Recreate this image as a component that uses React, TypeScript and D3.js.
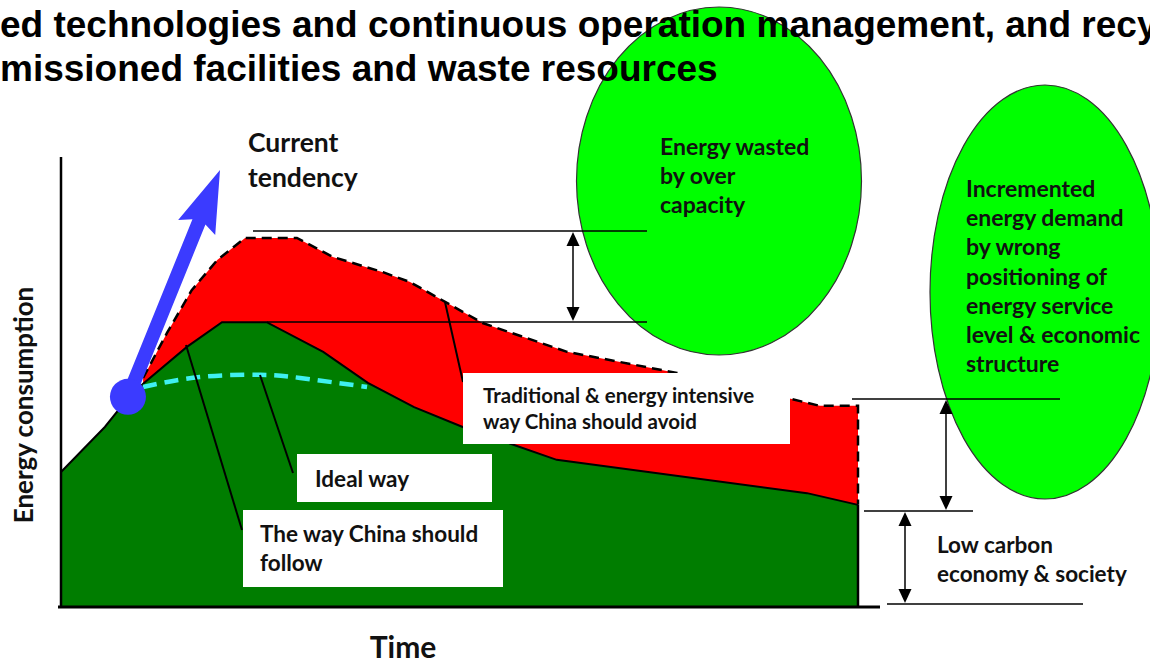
import { useEffect, useRef } from 'react';
import * as d3 from 'd3';

// time axis 0..100, energy axis 0..100 (conceptual units)
const followTime = [0, 5.5, 8.4, 10.3, 15.8, 20.2, 25.8, 32.9, 38.5, 44.3, 50.4, 62.2, 93.6, 100];
const followEnergy = [30, 40, 46.4, 49.6, 57.8, 63.3, 63.3, 56.7, 49.8, 44.4, 40, 32.7, 25.3, 22.7];

const avoidTime = [10.3, 13.3, 16.4, 19.6, 23.1, 29.6, 34.1, 40.4, 43.8, 52.9, 63.5, 77.3, 91.7, 95.2, 100];
const avoidEnergy = [50.9, 60.9, 70.4, 77.1, 82, 82, 77.8, 74.4, 72.2, 63.1, 56.7, 52, 46.2, 44.7, 44.7];

const idealTime = [10.3, 17.4, 25, 30, 38.4];
const idealEnergy = [48.9, 51.1, 51.6, 50.9, 48.9];

const tendencyTime = [8.4, 19.95];
const tendencyEnergy = [46.7, 97.1];

const titleLines = [
  'ed technologies and continuous operation management, and recy',
  'missioned facilities and waste resources',
];
const wastedLines = ['Energy wasted', 'by over', 'capacity'];
const demandLines = ['Incremented', 'energy demand', 'by wrong', 'positioning of', 'energy service', 'level & economic', 'structure'];
const avoidLines = ['Traditional & energy intensive', 'way China should avoid'];
const followLines = ['The way China should', 'follow'];
const idealLines = ['Ideal way'];
const lowCarbonLines = ['Low carbon', 'economy & society'];
const tendencyLines = ['Current', 'tendency'];

type Pt = [number, number];

export default function App() {
  const svgRef = useRef<SVGSVGElement>(null);

  useEffect(() => {
    if (!svgRef.current) return;
    const width = 1150;
    const height = 664;
    const svg = d3.select(svgRef.current);
    svg.selectAll('*').remove();
    svg.attr('width', width).attr('height', height);

    const x = d3.scaleLinear().domain([0, 100]).range([61, 858]);
    const y = d3.scaleLinear().domain([0, 100]).range([607, 157]);
    const line = d3.line<Pt>().x(d => x(d[0])).y(d => y(d[1]));

    const follow: Pt[] = followTime.map((t, i) => [t, followEnergy[i]]);
    const avoid: Pt[] = avoidTime.map((t, i) => [t, avoidEnergy[i]]);
    const ideal: Pt[] = idealTime.map((t, i) => [t, idealEnergy[i]]);

    const labelFont = 'Lato, "Open Sans", sans-serif';

    // green ellipses
    svg.append('ellipse')
      .attr('cx', 719).attr('cy', 181).attr('rx', 142.5).attr('ry', 174)
      .attr('fill', '#00ff00').attr('stroke', '#333').attr('stroke-width', 1.2);
    svg.append('ellipse')
      .attr('cx', 1045).attr('cy', 292).attr('rx', 115).attr('ry', 207)
      .attr('fill', '#00ff00').attr('stroke', '#333').attr('stroke-width', 1.2);

    // green area: the way China should follow
    svg.append('path')
      .attr('d', line([...follow, [100, 0], [0, 0]]) + 'Z')
      .attr('fill', '#007d00');

    // red area: traditional way to avoid
    const lower = follow.filter(d => d[0] >= avoidTime[0]).reverse();
    svg.append('path')
      .attr('d', line([...avoid, ...lower]) + 'Z')
      .attr('fill', '#ff0000');

    svg.append('path')
      .attr('d', line(follow))
      .attr('fill', 'none').attr('stroke', '#000').attr('stroke-width', 2);
    svg.append('line')
      .attr('x1', x(100)).attr('x2', x(100))
      .attr('y1', y(followEnergy[followEnergy.length - 1])).attr('y2', y(0))
      .attr('stroke', '#000').attr('stroke-width', 2.5);

    svg.append('path')
      .attr('d', line([...avoid, [100, followEnergy[followEnergy.length - 1]]]))
      .attr('fill', 'none').attr('stroke', '#000').attr('stroke-width', 2.5)
      .attr('stroke-dasharray', '10,6');

    // axes
    svg.append('line')
      .attr('x1', x(0)).attr('x2', x(0)).attr('y1', 157).attr('y2', y(0) + 1)
      .attr('stroke', '#000').attr('stroke-width', 2.5);
    svg.append('line')
      .attr('x1', 58).attr('x2', 880).attr('y1', y(0)).attr('y2', y(0))
      .attr('stroke', '#000').attr('stroke-width', 3);

    // cyan ideal path
    svg.append('path')
      .attr('d', d3.line<Pt>().x(d => x(d[0])).y(d => y(d[1])).curve(d3.curveNatural)(ideal))
      .attr('fill', 'none').attr('stroke', '#3ff0f0').attr('stroke-width', 4.5)
      .attr('stroke-dasharray', '14,8');

    // reference lines and double arrows
    const hLine = (x1: number, x2: number, yy: number) =>
      svg.append('line').attr('x1', x1).attr('x2', x2).attr('y1', yy).attr('y2', yy)
        .attr('stroke', '#000').attr('stroke-width', 1.3);
    const vArrow = (xx: number, y1: number, y2: number) => {
      svg.append('line').attr('x1', xx).attr('x2', xx).attr('y1', y1 + 8).attr('y2', y2 - 8)
        .attr('stroke', '#000').attr('stroke-width', 1.5);
      svg.append('path').attr('d', `M${xx},${y1}L${xx - 6.5},${y1 + 14}L${xx + 6.5},${y1 + 14}Z`).attr('fill', '#000');
      svg.append('path').attr('d', `M${xx},${y2}L${xx - 6.5},${y2 - 14}L${xx + 6.5},${y2 - 14}Z`).attr('fill', '#000');
    };
    hLine(253, 647, 231);
    hLine(267, 647, 322);
    vArrow(573, 232, 321);
    hLine(852, 1060, 399);
    hLine(864, 973, 511);
    hLine(887, 1083, 604);
    vArrow(946, 400, 510);
    vArrow(905, 512, 603);

    // leader lines
    const leader = (x1: number, y1: number, x2: number, y2: number) =>
      svg.append('line').attr('x1', x1).attr('y1', y1).attr('x2', x2).attr('y2', y2)
        .attr('stroke', '#000').attr('stroke-width', 2);
    leader(445, 302, 463, 382);
    leader(260, 375, 293, 473);
    leader(186, 345, 242, 530);

    // label boxes
    const box = (x0: number, y0: number, x1: number, y1: number) =>
      svg.append('rect').attr('x', x0).attr('y', y0).attr('width', x1 - x0).attr('height', y1 - y0)
        .attr('fill', '#fff');
    box(463, 373, 790, 444);
    box(297, 454, 492, 502);
    box(243, 510, 503, 587);

    const textBlock = (lines: string[], tx: number, ty: number, step: number, size: number) => {
      const t = svg.append('text')
        .attr('font-family', labelFont).attr('font-weight', 700)
        .attr('font-size', size).attr('fill', '#111');
      lines.forEach((s, i) => {
        t.append('tspan').attr('x', tx).attr('y', ty + i * step).text(s);
      });
    };
    textBlock(wastedLines, 660, 155, 29, 23);
    textBlock(demandLines, 966, 197, 29.2, 23);
    textBlock(avoidLines, 483, 403, 26, 20.5);
    textBlock(idealLines, 315, 487, 0, 22.5);
    textBlock(followLines, 260, 542, 29, 22.5);
    textBlock(lowCarbonLines, 937, 553, 29, 22.5);
    textBlock(tendencyLines, 248, 152, 35, 26.5);

    // axis titles
    svg.append('text')
      .attr('x', 403).attr('y', 658).attr('text-anchor', 'middle')
      .attr('font-family', labelFont).attr('font-weight', 700).attr('font-size', 30)
      .attr('fill', '#111').text('Time');
    svg.append('text')
      .attr('transform', 'translate(33,405) rotate(-90)').attr('text-anchor', 'middle')
      .attr('font-family', labelFont).attr('font-weight', 700).attr('font-size', 26)
      .attr('fill', '#111').text('Energy consumption');

    // blue "current tendency" arrow
    const sx = x(tendencyTime[0]), sy = y(tendencyEnergy[0]);
    const ex = x(tendencyTime[1]), ey = y(tendencyEnergy[1]);
    const len = Math.hypot(ex - sx, ey - sy);
    const ux = (ex - sx) / len, uy = (ey - sy) / len;
    const px = -uy, py = ux;
    const headLen = 62, headW = 20, shaftW = 7;
    const bx = ex - ux * headLen, by = ey - uy * headLen;
    const arrowPts: Pt[] = [
      [sx + px * shaftW, sy + py * shaftW],
      [bx + ux * 6 + px * shaftW, by + uy * 6 + py * shaftW],
      [bx + px * headW, by + py * headW],
      [ex, ey],
      [bx - px * headW, by - py * headW],
      [bx + ux * 6 - px * shaftW, by + uy * 6 - py * shaftW],
      [sx - px * shaftW, sy - py * shaftW],
    ];
    svg.append('path')
      .attr('d', 'M' + arrowPts.map(p => p.join(',')).join('L') + 'Z')
      .attr('fill', '#3b3bff');
    svg.append('circle').attr('cx', sx).attr('cy', sy).attr('r', 18).attr('fill', '#3b3bff');

    // heading text (cropped slide title)
    const title = svg.append('text')
      .attr('font-family', '"Liberation Sans", Arial, sans-serif').attr('font-weight', 700)
      .attr('font-size', 37).attr('fill', '#000');
    titleLines.forEach((s, i) => {
      title.append('tspan').attr('x', 0).attr('y', 37 + i * 44).text(s);
    });
  }, []);

  return (
    <div style={{ position: 'absolute', left: 0, top: 0, background: '#fff' }}>
      <svg ref={svgRef}></svg>
    </div>
  );
}
